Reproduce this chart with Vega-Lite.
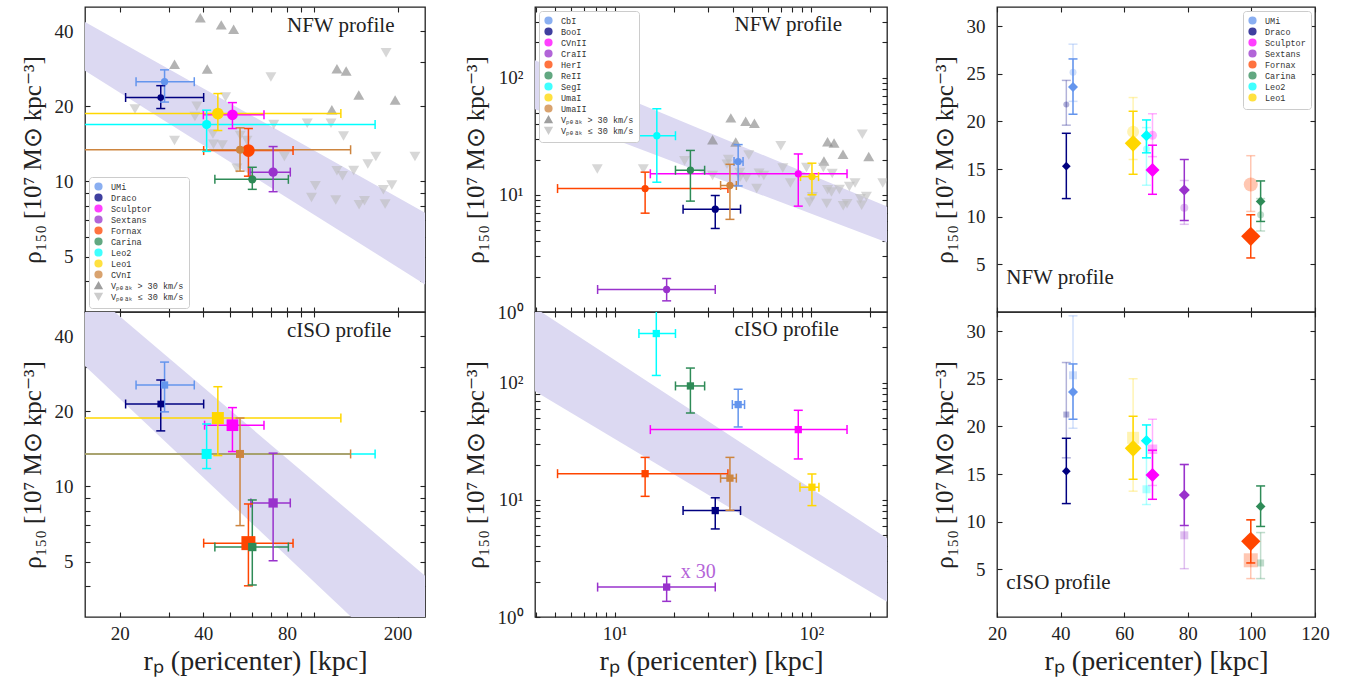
{
"$schema": "https://vega.github.io/schema/vega-lite/v6.json",
"background": "white",
"padding": {"left": 19, "top": 5, "right": 5, "bottom": 5},
"columns": 3,
"spacing": {"row": 0, "column": 110},
"bounds": "flush",
"align": "each",
"datasets": {
"sub": [
{"x":39.0,"y":45.3,"name":"Vₚₑₐₖ > 30 km/s"},{"x":46.4,"y":42.4,"name":"Vₚₑₐₖ > 30 km/s"},{"x":51.4,"y":40.7,"name":"Vₚₑₐₖ > 30 km/s"},{"x":31.5,"y":29.5,"name":"Vₚₑₐₖ > 30 km/s"},{"x":41.3,"y":28.2,"name":"Vₚₑₐₖ > 30 km/s"},{"x":121,"y":28.3,"name":"Vₚₑₐₖ > 30 km/s"},{"x":130.6,"y":27.7,"name":"Vₚₑₐₖ > 30 km/s"},{"x":145,"y":22.2,"name":"Vₚₑₐₖ > 30 km/s"},{"x":116,"y":19.4,"name":"Vₚₑₐₖ > 30 km/s"},{"x":196,"y":21.2,"name":"Vₚₑₐₖ > 30 km/s"},
{"x":22.7,"y":19.5,"name":"Vₚₑₐₖ ≤ 30 km/s"},{"x":31.5,"y":14.6,"name":"Vₚₑₐₖ ≤ 30 km/s"},{"x":48.1,"y":21.8,"name":"Vₚₑₐₖ ≤ 30 km/s"},{"x":37.9,"y":20.0,"name":"Vₚₑₐₖ ≤ 30 km/s"},{"x":37.3,"y":18.2,"name":"Vₚₑₐₖ ≤ 30 km/s"},{"x":43.5,"y":14.1,"name":"Vₚₑₐₖ ≤ 30 km/s"},{"x":46.8,"y":14.0,"name":"Vₚₑₐₖ ≤ 30 km/s"},{"x":43.3,"y":15.5,"name":"Vₚₑₐₖ ≤ 30 km/s"},{"x":54.3,"y":15.3,"name":"Vₚₑₐₖ ≤ 30 km/s"},{"x":57.4,"y":14.6,"name":"Vₚₑₐₖ ≤ 30 km/s"},{"x":52.8,"y":11.3,"name":"Vₚₑₐₖ ≤ 30 km/s"},{"x":70.0,"y":26.2,"name":"Vₚₑₐₖ ≤ 30 km/s"},{"x":71.7,"y":16.9,"name":"Vₚₑₐₖ ≤ 30 km/s"},{"x":94.6,"y":17.1,"name":"Vₚₑₐₖ ≤ 30 km/s"},{"x":115.2,"y":17.1,"name":"Vₚₑₐₖ ≤ 30 km/s"},{"x":127.8,"y":15.2,"name":"Vₚₑₐₖ ≤ 30 km/s"},{"x":181.8,"y":32.8,"name":"Vₚₑₐₖ ≤ 30 km/s"},{"x":167,"y":12.6,"name":"Vₚₑₐₖ ≤ 30 km/s"},{"x":231,"y":12.6,"name":"Vₚₑₐₖ ≤ 30 km/s"},{"x":156.3,"y":11.75,"name":"Vₚₑₐₖ ≤ 30 km/s"},{"x":139,"y":11.07,"name":"Vₚₑₐₖ ≤ 30 km/s"},{"x":121,"y":11.04,"name":"Vₚₑₐₖ ≤ 30 km/s"},{"x":126.7,"y":10.55,"name":"Vₚₑₐₖ ≤ 30 km/s"},{"x":101.2,"y":9.62,"name":"Vₚₑₐₖ ≤ 30 km/s"},{"x":98,"y":8.63,"name":"Vₚₑₐₖ ≤ 30 km/s"},{"x":119.8,"y":8.43,"name":"Vₚₑₐₖ ≤ 30 km/s"},{"x":145.4,"y":8.07,"name":"Vₚₑₐₖ ≤ 30 km/s"},{"x":152,"y":8.38,"name":"Vₚₑₐₖ ≤ 30 km/s"},{"x":180.4,"y":8.13,"name":"Vₚₑₐₖ ≤ 30 km/s"},{"x":190.7,"y":9.68,"name":"Vₚₑₐₖ ≤ 30 km/s"},{"x":177.8,"y":9.27,"name":"Vₚₑₐₖ ≤ 30 km/s"},{"x":78.3,"y":12.6,"name":"Vₚₑₐₖ ≤ 30 km/s"},{"x":8.17,"y":16.6,"name":"Vₚₑₐₖ ≤ 30 km/s"},{"x":14.0,"y":16.6,"name":"Vₚₑₐₖ ≤ 30 km/s"}
],
"bandA1": [{"x":15,"lo":27.8,"hi":43.5},{"x":251,"lo":3.87,"hi":7.5}],
"bandA2": [{"x":15,"lo":30.4,"hi":63.1},{"x":251,"lo":1.58,"hi":4.39}],
"bandB1": [{"x":3.94,"lo":53.7,"hi":140.5},{"x":252,"lo":3.83,"hi":7.74}],
"bandB2": [{"x":3.94,"lo":84.5,"hi":434},{"x":252,"lo":1.30,"hi":4.51}],
"A1": [
{"name":"UMi","x":29.0,"xlo":22.9,"xhi":37.1,"y":25.1,"ylo":20.8,"yhi":28.0,"s":53},
{"name":"Draco","x":28.1,"xlo":21.0,"xhi":40.1,"y":21.7,"ylo":19.6,"yhi":24.2,"s":45},
{"name":"Sculptor","x":50.9,"xlo":40.0,"xhi":66.1,"y":18.5,"ylo":16.3,"yhi":20.7,"s":114},
{"name":"Sextans","x":71.3,"xlo":58.9,"xhi":82.2,"y":10.9,"ylo":9.1,"yhi":13.8,"s":86},
{"name":"Fornax","x":58.1,"xlo":40.1,"xhi":84.1,"y":13.3,"ylo":10.5,"yhi":16.3,"s":161},
{"name":"Carina","x":60.0,"xlo":44.0,"xhi":80.9,"y":10.2,"ylo":9.3,"yhi":11.4,"s":69},
{"name":"Leo2","x":41.1,"xlo":10,"xhi":166,"y":16.9,"ylo":13.2,"yhi":19.3,"s":86},
{"name":"Leo1","x":45.1,"xlo":10,"xhi":125,"y":18.7,"ylo":16.0,"yhi":22.5,"s":137},
{"name":"CVnI","x":54.2,"xlo":10,"xhi":135.5,"y":13.4,"ylo":11.0,"yhi":16.4,"s":64}
],
"A2": [
{"name":"UMi","x":29.0,"xlo":22.9,"xhi":37.1,"y":25.5,"ylo":19.9,"yhi":31.5,"s":53},
{"name":"Draco","x":28.1,"xlo":21.0,"xhi":40.1,"y":21.4,"ylo":16.7,"yhi":26.7,"s":45},
{"name":"Sculptor","x":50.9,"xlo":40.4,"xhi":66.1,"y":17.6,"ylo":13.8,"yhi":20.7,"s":137},
{"name":"Sextans","x":71.3,"xlo":59.3,"xhi":82.2,"y":8.59,"ylo":5.04,"yhi":13.6,"s":86},
{"name":"Fornax","x":58.1,"xlo":40.1,"xhi":84.1,"y":5.93,"ylo":4.0,"yhi":8.51,"s":196},
{"name":"Carina","x":60.0,"xlo":44.0,"xhi":80.9,"y":5.72,"ylo":4.03,"yhi":8.83,"s":69},
{"name":"Leo2","x":41.1,"xlo":10,"xhi":166,"y":13.5,"ylo":11.8,"yhi":17.8,"s":100},
{"name":"Leo1","x":45.1,"xlo":10,"xhi":125,"y":18.8,"ylo":13.3,"yhi":25.1,"s":144},
{"name":"CVnI","x":54.2,"xlo":10,"xhi":135.5,"y":13.5,"ylo":6.97,"yhi":18.8,"s":64}
],
"B1": [
{"name":"CbI","x":42.5,"xlo":40.5,"xhi":45.0,"y":19.2,"ylo":11.9,"yhi":26.8,"s":53},
{"name":"BooI","x":32.5,"xlo":22.3,"xhi":43.7,"y":7.54,"ylo":5.16,"yhi":9.86,"s":53},
{"name":"CVnII","x":85.9,"xlo":15.2,"xhi":152,"y":15.1,"ylo":8.0,"yhi":22.3,"s":53},
{"name":"CraII","x":18.4,"xlo":8.2,"xhi":32.5,"y":1.556,"ylo":1.245,"yhi":1.93,"s":53},
{"name":"HerI","x":14.3,"xlo":5.13,"xhi":37.7,"y":11.3,"ylo":6.97,"yhi":15.6,"s":53},
{"name":"ReII","x":24.3,"xlo":20.4,"xhi":28.7,"y":16.2,"ylo":8.83,"yhi":23.9,"s":53},
{"name":"SegI","x":16.4,"xlo":13.3,"xhi":20.4,"y":31.9,"ylo":12.8,"yhi":54.2,"s":53},
{"name":"UmaI","x":100.8,"xlo":88.2,"xhi":108.9,"y":14.3,"ylo":10.0,"yhi":18.6,"s":53},
{"name":"UmaII","x":38.6,"xlo":34.6,"xhi":41.6,"y":12.0,"ylo":6.17,"yhi":18.2,"s":53}
],
"B2": [
{"name":"CbI","x":42.5,"xlo":39.7,"xhi":45.8,"y":64.9,"ylo":41.8,"yhi":87.7,"s":53},
{"name":"BooI","x":32.5,"xlo":22.3,"xhi":43.7,"y":8.09,"ylo":5.64,"yhi":10.4,"s":53},
{"name":"CVnII","x":85.9,"xlo":15.2,"xhi":152,"y":39.7,"ylo":22.3,"yhi":58.0,"s":53},
{"name":"CraII","x":18.4,"xlo":8.2,"xhi":32.5,"y":1.80,"ylo":1.36,"yhi":2.22,"s":53},
{"name":"HerI","x":14.3,"xlo":5.13,"xhi":37.7,"y":16.7,"ylo":10.7,"yhi":23.0,"s":53},
{"name":"ReII","x":24.3,"xlo":20.4,"xhi":28.7,"y":93.6,"ylo":55.0,"yhi":133,"s":53},
{"name":"SegI","x":16.3,"xlo":13.3,"xhi":20.4,"y":262,"ylo":115,"yhi":700,"s":53},
{"name":"UmaI","x":100.8,"xlo":87.6,"xhi":109.4,"y":12.8,"ylo":8.92,"yhi":16.6,"s":53},
{"name":"UmaII","x":38.6,"xlo":34.6,"xhi":41.6,"y":15.3,"ylo":8.13,"yhi":23.0,"s":53}
],
"Cd": [
{"name":"UMi","x":43.9,"y":23.6,"ylo":20.75,"yhi":26.55,"s":100},
{"name":"Draco","x":41.8,"y":15.3,"ylo":11.9,"yhi":18.75,"s":76},
{"name":"Sculptor","x":68.9,"y":14.9,"ylo":12.35,"yhi":17.5,"s":196},
{"name":"Sextans","x":78.9,"y":12.8,"ylo":9.6,"yhi":16.0,"s":121},
{"name":"Fornax","x":99.8,"y":7.94,"ylo":5.67,"yhi":10.2,"s":372},
{"name":"Carina","x":102.9,"y":11.6,"ylo":9.5,"yhi":13.75,"s":94},
{"name":"Leo2","x":67.0,"y":18.5,"ylo":16.7,"yhi":20.15,"s":128},
{"name":"Leo1","x":62.8,"y":17.7,"ylo":14.45,"yhi":21.06,"s":279}
],
"Cn": [
{"name":"UMi","x":43.9,"y":25.15,"ylo":22.1,"yhi":28.1,"s":49},
{"name":"Draco","x":41.8,"y":21.76,"ylo":19.6,"yhi":24.3,"s":36},
{"name":"Sculptor","x":68.9,"y":18.55,"ylo":16.3,"yhi":20.8,"s":81},
{"name":"Sextans","x":78.9,"y":10.95,"ylo":9.2,"yhi":13.8,"s":64},
{"name":"Fornax","x":99.8,"y":13.37,"ylo":10.55,"yhi":16.4,"s":196},
{"name":"Carina","x":102.9,"y":10.2,"ylo":8.5,"yhi":11.9,"s":49},
{"name":"Leo2","x":67.0,"y":17.1,"ylo":13.3,"yhi":19.35,"s":49},
{"name":"Leo1","x":62.8,"y":18.9,"ylo":16.0,"yhi":22.5,"s":144}
],
"Ci": [
{"name":"UMi","x":43.9,"y":25.36,"ylo":19.8,"yhi":31.6,"s":64},
{"name":"Draco","x":41.8,"y":21.24,"ylo":16.7,"yhi":26.7,"s":36},
{"name":"Sculptor","x":68.9,"y":17.6,"ylo":13.8,"yhi":20.75,"s":90},
{"name":"Sextans","x":78.9,"y":8.57,"ylo":5.07,"yhi":16.0,"s":64},
{"name":"Fornax","x":99.8,"y":5.95,"ylo":4.03,"yhi":10.15,"s":196},
{"name":"Carina","x":102.9,"y":5.67,"ylo":4.03,"yhi":8.86,"s":49},
{"name":"Leo2","x":67.0,"y":13.4,"ylo":11.8,"yhi":16.7,"s":64},
{"name":"Leo1","x":62.8,"y":18.8,"ylo":13.2,"yhi":25.0,"s":144}
],
"tA1": [{"x":80,"y":42,"t":"NFW profile"}],
"tA2": [{"x":80,"y":42,"t":"cISO profile"}],
"tB1": [{"x":40.7,"y":283,"t":"NFW profile"}],
"tB2": [{"x":40.7,"y":283,"t":"cISO profile"}],
"tB2b": [{"x":26.6,"y":2.42,"t":"x 30"}],
"tC1": [{"x":22.9,"y":3.6,"t":"NFW profile"}],
"tC2": [{"x":22.9,"y":3.6,"t":"cISO profile"}]
},
"concat": [
{
"width": 340, "height": 305,
"resolve": {"axis": {"x": "independent", "y": "independent"}},
"encoding": {"color": {"field": "name", "type": "nominal", "legend": null, "scale": {"domain": ["UMi","Draco","Sculptor","Sextans","Fornax","Carina","Leo2","Leo1","CVnI","Vₚₑₐₖ > 30 km/s","Vₚₑₐₖ ≤ 30 km/s"], "range": ["#6495ED","#000080","#FF00FF","#9932CC","#FF4500","#2E8B57","#00FFFF","#FFD700","#CD853F","#808080","#bcbcbc"]}}},
"layer": [
{"data": {"name": "bandA1"}, "mark": {"type": "area", "clip": true},
 "encoding": {
 "x": {"field": "x", "type": "quantitative", "scale": {"type": "log", "domain": [15,251], "nice": false}, "axis": {"orient": "bottom", "values": [20,30,40,50,60,70,80,90,100,200], "labels": false, "title": null}},
 "y": {"field": "lo", "type": "quantitative", "scale": {"type": "log", "domain": [3,50], "nice": false}, "axis": {"orient": "left", "values": [4,5,6,7,8,9,10,20,30,40], "labelExpr": "indexof([5,10,20,40], datum.value) >= 0 ? format(datum.value, 'd') : ''", "title": "ρ₁₅₀ [10⁷ M⊙ kpc⁻³]", "labelFont": "Liberation Serif", "titleFont": "Liberation Serif"}},
 "y2": {"field": "hi"},
 "color": {"value": "#dcd9f2"}}},
{"data": {"name": "sub"}, "mark": {"type": "point", "filled": true, "opacity": 0, "size": 40, "clip": true},
 "encoding": {
 "x": {"field": "x", "type": "quantitative", "scale": {"type": "log", "domain": [15,251], "nice": false}, "axis": null},
 "y": {"field": "y", "type": "quantitative", "scale": {"type": "log", "domain": [3,50], "nice": false}, "axis": null},
 "color": {"field": "name", "type": "nominal", "scale": {"domain": ["UMi","Draco","Sculptor","Sextans","Fornax","Carina","Leo2","Leo1","CVnI","Vₚₑₐₖ > 30 km/s","Vₚₑₐₖ ≤ 30 km/s"], "range": ["#6495ED","#000080","#FF00FF","#9932CC","#FF4500","#2E8B57","#00FFFF","#FFD700","#CD853F","#808080","#bcbcbc"]}, "legend": {"title": null, "orient": "bottom-left", "offset": 4, "symbolOpacity": 0.75, "symbolSize": 45}},
 "shape": {"field": "name", "type": "nominal", "scale": {"domain": ["UMi","Draco","Sculptor","Sextans","Fornax","Carina","Leo2","Leo1","CVnI","Vₚₑₐₖ > 30 km/s","Vₚₑₐₖ ≤ 30 km/s"], "range": ["circle","circle","circle","circle","circle","circle","circle","circle","circle","triangle-up","triangle-down"]}, "legend": {"title": null, "orient": "bottom-left", "offset": 4, "symbolOpacity": 0.75, "symbolSize": 45}}}},
{"data": {"name": "sub"}, "mark": {"type": "point", "filled": true, "opacity": 0.6, "size": 120, "clip": true},
 "encoding": {
 "x": {"field": "x", "type": "quantitative", "scale": {"type": "log", "domain": [15,251], "nice": false}, "axis": null},
 "y": {"field": "y", "type": "quantitative", "scale": {"type": "log", "domain": [3,50], "nice": false}, "axis": null},
 "shape": {"field": "name", "type": "nominal", "scale": {"domain": ["UMi","Draco","Sculptor","Sextans","Fornax","Carina","Leo2","Leo1","CVnI","Vₚₑₐₖ > 30 km/s","Vₚₑₐₖ ≤ 30 km/s"], "range": ["circle","circle","circle","circle","circle","circle","circle","circle","circle","triangle-up","triangle-down"]}, "legend": null}}},
{"data": {"name": "A1"}, "mark": {"type": "rule", "strokeWidth": 1.5, "clip": true},
 "encoding": {"x": {"field": "xlo", "type": "quantitative", "scale": {"type": "log", "domain": [15,251], "nice": false}, "axis": null}, "x2": {"field": "xhi"}, "y": {"field": "y", "type": "quantitative", "scale": {"type": "log", "domain": [3,50], "nice": false}, "axis": null}}},
{"data": {"name": "A1"}, "mark": {"type": "rule", "strokeWidth": 1.5, "clip": true},
 "encoding": {"x": {"field": "x", "type": "quantitative", "scale": {"type": "log", "domain": [15,251], "nice": false}, "axis": null}, "y": {"field": "ylo", "type": "quantitative", "scale": {"type": "log", "domain": [3,50], "nice": false}, "axis": null}, "y2": {"field": "yhi"}}},
{"data": {"name": "A1"}, "mark": {"type": "tick", "orient": "vertical", "size": 9, "thickness": 1.5, "opacity": 1, "clip": true},
 "encoding": {"x": {"field": "xlo", "type": "quantitative", "scale": {"type": "log", "domain": [15,251], "nice": false}, "axis": null}, "y": {"field": "y", "type": "quantitative", "scale": {"type": "log", "domain": [3,50], "nice": false}, "axis": null}}},
{"data": {"name": "A1"}, "mark": {"type": "tick", "orient": "vertical", "size": 9, "thickness": 1.5, "opacity": 1, "clip": true},
 "encoding": {"x": {"field": "xhi", "type": "quantitative", "scale": {"type": "log", "domain": [15,251], "nice": false}, "axis": null}, "y": {"field": "y", "type": "quantitative", "scale": {"type": "log", "domain": [3,50], "nice": false}, "axis": null}}},
{"data": {"name": "A1"}, "mark": {"type": "tick", "orient": "horizontal", "size": 9, "thickness": 1.5, "opacity": 1, "clip": true},
 "encoding": {"x": {"field": "x", "type": "quantitative", "scale": {"type": "log", "domain": [15,251], "nice": false}, "axis": null}, "y": {"field": "ylo", "type": "quantitative", "scale": {"type": "log", "domain": [3,50], "nice": false}, "axis": null}}},
{"data": {"name": "A1"}, "mark": {"type": "tick", "orient": "horizontal", "size": 9, "thickness": 1.5, "opacity": 1, "clip": true},
 "encoding": {"x": {"field": "x", "type": "quantitative", "scale": {"type": "log", "domain": [15,251], "nice": false}, "axis": null}, "y": {"field": "yhi", "type": "quantitative", "scale": {"type": "log", "domain": [3,50], "nice": false}, "axis": null}}},
{"data": {"name": "A1"}, "mark": {"type": "point", "shape": "circle", "filled": true, "opacity": 1, "clip": true},
 "encoding": {"x": {"field": "x", "type": "quantitative", "scale": {"type": "log", "domain": [15,251], "nice": false}, "axis": null}, "y": {"field": "y", "type": "quantitative", "scale": {"type": "log", "domain": [3,50], "nice": false}, "axis": null}, "size": {"field": "s", "type": "quantitative", "scale": null}}},
{"data": {"name": "tA1"}, "mark": {"type": "text", "align": "left", "baseline": "middle", "fontSize": 21, "font": "Liberation Serif"},
 "encoding": {"x": {"field": "x", "type": "quantitative", "scale": {"type": "log", "domain": [15,251], "nice": false}, "axis": {"orient": "top", "values": [20,30,40,50,60,70,80,90,100,200], "labels": false, "title": null}}, "y": {"field": "y", "type": "quantitative", "scale": {"type": "log", "domain": [3,50], "nice": false}, "axis": {"orient": "right", "values": [4,5,6,7,8,9,10,20,30,40], "labels": false, "title": null}}, "text": {"field": "t"}, "color": {"value": "#222222"}}}
]
},
{
"width": 352, "height": 305,
"resolve": {"axis": {"x": "independent", "y": "independent"}},
"encoding": {"color": {"field": "name", "type": "nominal", "legend": null, "scale": {"domain": ["CbI","BooI","CVnII","CraII","HerI","ReII","SegI","UmaI","UmaII","Vₚₑₐₖ > 30 km/s","Vₚₑₐₖ ≤ 30 km/s"], "range": ["#6495ED","#000080","#FF00FF","#9932CC","#FF4500","#2E8B57","#00FFFF","#FFD700","#CD853F","#808080","#bcbcbc"]}}},
"layer": [
{"data": {"name": "bandB1"}, "mark": {"type": "area", "clip": true},
 "encoding": {
 "x": {"field": "x", "type": "quantitative", "scale": {"type": "log", "domain": [3.94,242.7], "nice": false}, "axis": {"orient": "bottom", "values": [4,5,6,7,8,9,10,20,30,40,50,60,70,80,90,100,200], "labels": false, "title": null}},
 "y": {"field": "lo", "type": "quantitative", "scale": {"type": "log", "domain": [1,400], "nice": false}, "axis": {"orient": "left", "values": [1,2,3,4,5,6,7,8,9,10,20,30,40,50,60,70,80,90,100,200,300], "labelExpr": "datum.value == 1 ? '10⁰' : datum.value == 10 ? '10¹' : datum.value == 100 ? '10²' : ''", "title": "ρ₁₅₀ [10⁷ M⊙ kpc⁻³]", "labelFont": "Liberation Serif", "titleFont": "Liberation Serif"}},
 "y2": {"field": "hi"},
 "color": {"value": "#dcd9f2"}}},
{"data": {"name": "sub"}, "mark": {"type": "point", "filled": true, "opacity": 0, "size": 40, "clip": true},
 "encoding": {
 "x": {"field": "x", "type": "quantitative", "scale": {"type": "log", "domain": [3.94,242.7], "nice": false}, "axis": null},
 "y": {"field": "y", "type": "quantitative", "scale": {"type": "log", "domain": [1,400], "nice": false}, "axis": null},
 "color": {"field": "name", "type": "nominal", "scale": {"domain": ["CbI","BooI","CVnII","CraII","HerI","ReII","SegI","UmaI","UmaII","Vₚₑₐₖ > 30 km/s","Vₚₑₐₖ ≤ 30 km/s"], "range": ["#6495ED","#000080","#FF00FF","#9932CC","#FF4500","#2E8B57","#00FFFF","#FFD700","#CD853F","#808080","#bcbcbc"]}, "legend": {"title": null, "orient": "top-left", "offset": 4, "symbolOpacity": 0.75, "symbolSize": 45}},
 "shape": {"field": "name", "type": "nominal", "scale": {"domain": ["CbI","BooI","CVnII","CraII","HerI","ReII","SegI","UmaI","UmaII","Vₚₑₐₖ > 30 km/s","Vₚₑₐₖ ≤ 30 km/s"], "range": ["circle","circle","circle","circle","circle","circle","circle","circle","circle","triangle-up","triangle-down"]}, "legend": {"title": null, "orient": "top-left", "offset": 4, "symbolOpacity": 0.75, "symbolSize": 45}}}},
{"data": {"name": "sub"}, "mark": {"type": "point", "filled": true, "opacity": 0.6, "size": 120, "clip": true},
 "encoding": {
 "x": {"field": "x", "type": "quantitative", "scale": {"type": "log", "domain": [3.94,242.7], "nice": false}, "axis": null},
 "y": {"field": "y", "type": "quantitative", "scale": {"type": "log", "domain": [1,400], "nice": false}, "axis": null},
 "shape": {"field": "name", "type": "nominal", "scale": {"domain": ["CbI","BooI","CVnII","CraII","HerI","ReII","SegI","UmaI","UmaII","Vₚₑₐₖ > 30 km/s","Vₚₑₐₖ ≤ 30 km/s"], "range": ["circle","circle","circle","circle","circle","circle","circle","circle","circle","triangle-up","triangle-down"]}, "legend": null}}},
{"data": {"name": "B1"}, "mark": {"type": "rule", "strokeWidth": 1.5, "clip": true},
 "encoding": {"x": {"field": "xlo", "type": "quantitative", "scale": {"type": "log", "domain": [3.94,242.7], "nice": false}, "axis": null}, "x2": {"field": "xhi"}, "y": {"field": "y", "type": "quantitative", "scale": {"type": "log", "domain": [1,400], "nice": false}, "axis": null}}},
{"data": {"name": "B1"}, "mark": {"type": "rule", "strokeWidth": 1.5, "clip": true},
 "encoding": {"x": {"field": "x", "type": "quantitative", "scale": {"type": "log", "domain": [3.94,242.7], "nice": false}, "axis": null}, "y": {"field": "ylo", "type": "quantitative", "scale": {"type": "log", "domain": [1,400], "nice": false}, "axis": null}, "y2": {"field": "yhi"}}},
{"data": {"name": "B1"}, "mark": {"type": "tick", "orient": "vertical", "size": 9, "thickness": 1.5, "opacity": 1, "clip": true},
 "encoding": {"x": {"field": "xlo", "type": "quantitative", "scale": {"type": "log", "domain": [3.94,242.7], "nice": false}, "axis": null}, "y": {"field": "y", "type": "quantitative", "scale": {"type": "log", "domain": [1,400], "nice": false}, "axis": null}}},
{"data": {"name": "B1"}, "mark": {"type": "tick", "orient": "vertical", "size": 9, "thickness": 1.5, "opacity": 1, "clip": true},
 "encoding": {"x": {"field": "xhi", "type": "quantitative", "scale": {"type": "log", "domain": [3.94,242.7], "nice": false}, "axis": null}, "y": {"field": "y", "type": "quantitative", "scale": {"type": "log", "domain": [1,400], "nice": false}, "axis": null}}},
{"data": {"name": "B1"}, "mark": {"type": "tick", "orient": "horizontal", "size": 9, "thickness": 1.5, "opacity": 1, "clip": true},
 "encoding": {"x": {"field": "x", "type": "quantitative", "scale": {"type": "log", "domain": [3.94,242.7], "nice": false}, "axis": null}, "y": {"field": "ylo", "type": "quantitative", "scale": {"type": "log", "domain": [1,400], "nice": false}, "axis": null}}},
{"data": {"name": "B1"}, "mark": {"type": "tick", "orient": "horizontal", "size": 9, "thickness": 1.5, "opacity": 1, "clip": true},
 "encoding": {"x": {"field": "x", "type": "quantitative", "scale": {"type": "log", "domain": [3.94,242.7], "nice": false}, "axis": null}, "y": {"field": "yhi", "type": "quantitative", "scale": {"type": "log", "domain": [1,400], "nice": false}, "axis": null}}},
{"data": {"name": "B1"}, "mark": {"type": "point", "shape": "circle", "filled": true, "opacity": 1, "clip": true},
 "encoding": {"x": {"field": "x", "type": "quantitative", "scale": {"type": "log", "domain": [3.94,242.7], "nice": false}, "axis": null}, "y": {"field": "y", "type": "quantitative", "scale": {"type": "log", "domain": [1,400], "nice": false}, "axis": null}, "size": {"field": "s", "type": "quantitative", "scale": null}}},
{"data": {"name": "tB1"}, "mark": {"type": "text", "align": "left", "baseline": "middle", "fontSize": 21, "font": "Liberation Serif"},
 "encoding": {"x": {"field": "x", "type": "quantitative", "scale": {"type": "log", "domain": [3.94,242.7], "nice": false}, "axis": {"orient": "top", "values": [4,5,6,7,8,9,10,20,30,40,50,60,70,80,90,100,200], "labels": false, "title": null}}, "y": {"field": "y", "type": "quantitative", "scale": {"type": "log", "domain": [1,400], "nice": false}, "axis": {"orient": "right", "values": [2,3,4,5,6,7,8,9,10,20,30,40,50,60,70,80,90,100,200,300], "labels": false, "title": null}}, "text": {"field": "t"}, "color": {"value": "#222222"}}}
]
},
{
"width": 318, "height": 305,
"resolve": {"axis": {"x": "independent", "y": "independent"}},
"encoding": {"color": {"field": "name", "type": "nominal", "legend": null, "scale": {"domain": ["UMi","Draco","Sculptor","Sextans","Fornax","Carina","Leo2","Leo1"], "range": ["#6495ED","#000080","#FF00FF","#9932CC","#FF4500","#2E8B57","#00FFFF","#FFD700"]}}},
"layer": [
{"data": {"name": "Cd"}, "mark": {"type": "point", "filled": true, "opacity": 0, "size": 45, "clip": true},
 "encoding": {
 "x": {"field": "x", "type": "quantitative", "scale": {"type": "linear", "domain": [20,120], "nice": false, "zero": false}, "axis": {"orient": "bottom", "values": [20,40,60,80,100,120], "labels": false, "title": null}},
 "y": {"field": "y", "type": "quantitative", "scale": {"type": "linear", "domain": [0,32], "nice": false, "zero": false}, "axis": {"orient": "left", "values": [5,10,15,20,25,30], "title": "ρ₁₅₀ [10⁷ M⊙ kpc⁻³]", "labelFont": "Liberation Serif", "titleFont": "Liberation Serif"}},
 "color": {"field": "name", "type": "nominal", "scale": {"domain": ["UMi","Draco","Sculptor","Sextans","Fornax","Carina","Leo2","Leo1"], "range": ["#6495ED","#000080","#FF00FF","#9932CC","#FF4500","#2E8B57","#00FFFF","#FFD700"]}, "legend": {"title": null, "orient": "top-right", "offset": 4, "symbolOpacity": 0.75, "symbolType": "circle", "symbolSize": 45}}}},
{"data": {"name": "Cn"}, "mark": {"type": "rule", "strokeWidth": 1.5, "opacity": 0.3, "clip": true},
 "encoding": {"x": {"field": "x", "type": "quantitative", "scale": {"type": "linear", "domain": [20,120], "nice": false, "zero": false}, "axis": null}, "y": {"field": "ylo", "type": "quantitative", "scale": {"type": "linear", "domain": [0,32], "nice": false, "zero": false}, "axis": null}, "y2": {"field": "yhi"}}},
{"data": {"name": "Cn"}, "mark": {"type": "tick", "orient": "horizontal", "size": 9, "thickness": 1.5, "opacity": 0.3, "clip": true},
 "encoding": {"x": {"field": "x", "type": "quantitative", "scale": {"type": "linear", "domain": [20,120], "nice": false, "zero": false}, "axis": null}, "y": {"field": "ylo", "type": "quantitative", "scale": {"type": "linear", "domain": [0,32], "nice": false, "zero": false}, "axis": null}}},
{"data": {"name": "Cn"}, "mark": {"type": "tick", "orient": "horizontal", "size": 9, "thickness": 1.5, "opacity": 0.3, "clip": true},
 "encoding": {"x": {"field": "x", "type": "quantitative", "scale": {"type": "linear", "domain": [20,120], "nice": false, "zero": false}, "axis": null}, "y": {"field": "yhi", "type": "quantitative", "scale": {"type": "linear", "domain": [0,32], "nice": false, "zero": false}, "axis": null}}},
{"data": {"name": "Cn"}, "mark": {"type": "point", "shape": "circle", "filled": true, "opacity": 0.3, "clip": true},
 "encoding": {"x": {"field": "x", "type": "quantitative", "scale": {"type": "linear", "domain": [20,120], "nice": false, "zero": false}, "axis": null}, "y": {"field": "y", "type": "quantitative", "scale": {"type": "linear", "domain": [0,32], "nice": false, "zero": false}, "axis": null}, "size": {"field": "s", "type": "quantitative", "scale": null}}},
{"data": {"name": "Cd"}, "mark": {"type": "rule", "strokeWidth": 1.5, "clip": true},
 "encoding": {"x": {"field": "x", "type": "quantitative", "scale": {"type": "linear", "domain": [20,120], "nice": false, "zero": false}, "axis": null}, "y": {"field": "ylo", "type": "quantitative", "scale": {"type": "linear", "domain": [0,32], "nice": false, "zero": false}, "axis": null}, "y2": {"field": "yhi"}}},
{"data": {"name": "Cd"}, "mark": {"type": "tick", "orient": "horizontal", "size": 9, "thickness": 1.5, "opacity": 1, "clip": true},
 "encoding": {"x": {"field": "x", "type": "quantitative", "scale": {"type": "linear", "domain": [20,120], "nice": false, "zero": false}, "axis": null}, "y": {"field": "ylo", "type": "quantitative", "scale": {"type": "linear", "domain": [0,32], "nice": false, "zero": false}, "axis": null}}},
{"data": {"name": "Cd"}, "mark": {"type": "tick", "orient": "horizontal", "size": 9, "thickness": 1.5, "opacity": 1, "clip": true},
 "encoding": {"x": {"field": "x", "type": "quantitative", "scale": {"type": "linear", "domain": [20,120], "nice": false, "zero": false}, "axis": null}, "y": {"field": "yhi", "type": "quantitative", "scale": {"type": "linear", "domain": [0,32], "nice": false, "zero": false}, "axis": null}}},
{"data": {"name": "Cd"}, "mark": {"type": "point", "shape": "diamond", "filled": true, "opacity": 1, "clip": true},
 "encoding": {"x": {"field": "x", "type": "quantitative", "scale": {"type": "linear", "domain": [20,120], "nice": false, "zero": false}, "axis": null}, "y": {"field": "y", "type": "quantitative", "scale": {"type": "linear", "domain": [0,32], "nice": false, "zero": false}, "axis": null}, "size": {"field": "s", "type": "quantitative", "scale": null}}},
{"data": {"name": "tC1"}, "mark": {"type": "text", "align": "left", "baseline": "middle", "fontSize": 21, "font": "Liberation Serif"},
 "encoding": {"x": {"field": "x", "type": "quantitative", "scale": {"type": "linear", "domain": [20,120], "nice": false, "zero": false}, "axis": {"orient": "top", "values": [20,40,60,80,100,120], "labels": false, "title": null}}, "y": {"field": "y", "type": "quantitative", "scale": {"type": "linear", "domain": [0,32], "nice": false, "zero": false}, "axis": {"orient": "right", "values": [5,10,15,20,25,30], "labels": false, "title": null}}, "text": {"field": "t"}, "color": {"value": "#222222"}}}
]
},
{
"width": 340, "height": 305,
"resolve": {"axis": {"x": "independent", "y": "independent"}},
"encoding": {"color": {"field": "name", "type": "nominal", "legend": null, "scale": {"domain": ["UMi","Draco","Sculptor","Sextans","Fornax","Carina","Leo2","Leo1","CVnI"], "range": ["#6495ED","#000080","#FF00FF","#9932CC","#FF4500","#2E8B57","#00FFFF","#FFD700","#CD853F"]}}},
"layer": [
{"data": {"name": "bandA2"}, "mark": {"type": "area", "clip": true},
 "encoding": {
 "x": {"field": "x", "type": "quantitative", "scale": {"type": "log", "domain": [15,251], "nice": false}, "axis": {"orient": "bottom", "values": [20,30,40,50,60,70,80,90,100,200], "labelExpr": "indexof([20,40,80,200], datum.value) >= 0 ? format(datum.value, 'd') : ''", "title": "rₚ (pericenter) [kpc]", "labelFont": "Liberation Serif", "titleFont": "Liberation Serif"}},
 "y": {"field": "lo", "type": "quantitative", "scale": {"type": "log", "domain": [3,50], "nice": false}, "axis": {"orient": "left", "values": [4,5,6,7,8,9,10,20,30,40], "labelExpr": "indexof([5,10,20,40], datum.value) >= 0 ? format(datum.value, 'd') : ''", "title": "ρ₁₅₀ [10⁷ M⊙ kpc⁻³]", "labelFont": "Liberation Serif", "titleFont": "Liberation Serif"}},
 "y2": {"field": "hi"},
 "color": {"value": "#dcd9f2"}}},
{"data": {"name": "A2"}, "mark": {"type": "rule", "strokeWidth": 1.5, "clip": true},
 "encoding": {"x": {"field": "xlo", "type": "quantitative", "scale": {"type": "log", "domain": [15,251], "nice": false}, "axis": null}, "x2": {"field": "xhi"}, "y": {"field": "y", "type": "quantitative", "scale": {"type": "log", "domain": [3,50], "nice": false}, "axis": null}}},
{"data": {"name": "A2"}, "mark": {"type": "rule", "strokeWidth": 1.5, "clip": true},
 "encoding": {"x": {"field": "x", "type": "quantitative", "scale": {"type": "log", "domain": [15,251], "nice": false}, "axis": null}, "y": {"field": "ylo", "type": "quantitative", "scale": {"type": "log", "domain": [3,50], "nice": false}, "axis": null}, "y2": {"field": "yhi"}}},
{"data": {"name": "A2"}, "mark": {"type": "tick", "orient": "vertical", "size": 9, "thickness": 1.5, "opacity": 1, "clip": true},
 "encoding": {"x": {"field": "xlo", "type": "quantitative", "scale": {"type": "log", "domain": [15,251], "nice": false}, "axis": null}, "y": {"field": "y", "type": "quantitative", "scale": {"type": "log", "domain": [3,50], "nice": false}, "axis": null}}},
{"data": {"name": "A2"}, "mark": {"type": "tick", "orient": "vertical", "size": 9, "thickness": 1.5, "opacity": 1, "clip": true},
 "encoding": {"x": {"field": "xhi", "type": "quantitative", "scale": {"type": "log", "domain": [15,251], "nice": false}, "axis": null}, "y": {"field": "y", "type": "quantitative", "scale": {"type": "log", "domain": [3,50], "nice": false}, "axis": null}}},
{"data": {"name": "A2"}, "mark": {"type": "tick", "orient": "horizontal", "size": 9, "thickness": 1.5, "opacity": 1, "clip": true},
 "encoding": {"x": {"field": "x", "type": "quantitative", "scale": {"type": "log", "domain": [15,251], "nice": false}, "axis": null}, "y": {"field": "ylo", "type": "quantitative", "scale": {"type": "log", "domain": [3,50], "nice": false}, "axis": null}}},
{"data": {"name": "A2"}, "mark": {"type": "tick", "orient": "horizontal", "size": 9, "thickness": 1.5, "opacity": 1, "clip": true},
 "encoding": {"x": {"field": "x", "type": "quantitative", "scale": {"type": "log", "domain": [15,251], "nice": false}, "axis": null}, "y": {"field": "yhi", "type": "quantitative", "scale": {"type": "log", "domain": [3,50], "nice": false}, "axis": null}}},
{"data": {"name": "A2"}, "mark": {"type": "point", "shape": "square", "filled": true, "opacity": 1, "clip": true},
 "encoding": {"x": {"field": "x", "type": "quantitative", "scale": {"type": "log", "domain": [15,251], "nice": false}, "axis": null}, "y": {"field": "y", "type": "quantitative", "scale": {"type": "log", "domain": [3,50], "nice": false}, "axis": null}, "size": {"field": "s", "type": "quantitative", "scale": null}}},
{"data": {"name": "tA2"}, "mark": {"type": "text", "align": "left", "baseline": "middle", "fontSize": 21, "font": "Liberation Serif"},
 "encoding": {"x": {"field": "x", "type": "quantitative", "scale": {"type": "log", "domain": [15,251], "nice": false}, "axis": {"orient": "top", "values": [20,30,40,50,60,70,80,90,100,200], "labels": false, "title": null}}, "y": {"field": "y", "type": "quantitative", "scale": {"type": "log", "domain": [3,50], "nice": false}, "axis": {"orient": "right", "values": [4,5,6,7,8,9,10,20,30,40], "labels": false, "title": null}}, "text": {"field": "t"}, "color": {"value": "#222222"}}}
]
},
{
"width": 352, "height": 305,
"resolve": {"axis": {"x": "independent", "y": "independent"}},
"encoding": {"color": {"field": "name", "type": "nominal", "legend": null, "scale": {"domain": ["CbI","BooI","CVnII","CraII","HerI","ReII","SegI","UmaI","UmaII"], "range": ["#6495ED","#000080","#FF00FF","#9932CC","#FF4500","#2E8B57","#00FFFF","#FFD700","#CD853F"]}}},
"layer": [
{"data": {"name": "bandB2"}, "mark": {"type": "area", "clip": true},
 "encoding": {
 "x": {"field": "x", "type": "quantitative", "scale": {"type": "log", "domain": [3.94,242.7], "nice": false}, "axis": {"orient": "bottom", "values": [4,5,6,7,8,9,10,20,30,40,50,60,70,80,90,100,200], "labelExpr": "datum.value == 10 ? '10¹' : datum.value == 100 ? '10²' : ''", "title": "rₚ (pericenter) [kpc]", "labelFont": "Liberation Serif", "titleFont": "Liberation Serif"}},
 "y": {"field": "lo", "type": "quantitative", "scale": {"type": "log", "domain": [1,400], "nice": false}, "axis": {"orient": "left", "values": [1,2,3,4,5,6,7,8,9,10,20,30,40,50,60,70,80,90,100,200,300], "labelExpr": "datum.value == 1 ? '10⁰' : datum.value == 10 ? '10¹' : datum.value == 100 ? '10²' : ''", "title": "ρ₁₅₀ [10⁷ M⊙ kpc⁻³]", "labelFont": "Liberation Serif", "titleFont": "Liberation Serif"}},
 "y2": {"field": "hi"},
 "color": {"value": "#dcd9f2"}}},
{"data": {"name": "B2"}, "mark": {"type": "rule", "strokeWidth": 1.5, "clip": true},
 "encoding": {"x": {"field": "xlo", "type": "quantitative", "scale": {"type": "log", "domain": [3.94,242.7], "nice": false}, "axis": null}, "x2": {"field": "xhi"}, "y": {"field": "y", "type": "quantitative", "scale": {"type": "log", "domain": [1,400], "nice": false}, "axis": null}}},
{"data": {"name": "B2"}, "mark": {"type": "rule", "strokeWidth": 1.5, "clip": true},
 "encoding": {"x": {"field": "x", "type": "quantitative", "scale": {"type": "log", "domain": [3.94,242.7], "nice": false}, "axis": null}, "y": {"field": "ylo", "type": "quantitative", "scale": {"type": "log", "domain": [1,400], "nice": false}, "axis": null}, "y2": {"field": "yhi"}}},
{"data": {"name": "B2"}, "mark": {"type": "tick", "orient": "vertical", "size": 9, "thickness": 1.5, "opacity": 1, "clip": true},
 "encoding": {"x": {"field": "xlo", "type": "quantitative", "scale": {"type": "log", "domain": [3.94,242.7], "nice": false}, "axis": null}, "y": {"field": "y", "type": "quantitative", "scale": {"type": "log", "domain": [1,400], "nice": false}, "axis": null}}},
{"data": {"name": "B2"}, "mark": {"type": "tick", "orient": "vertical", "size": 9, "thickness": 1.5, "opacity": 1, "clip": true},
 "encoding": {"x": {"field": "xhi", "type": "quantitative", "scale": {"type": "log", "domain": [3.94,242.7], "nice": false}, "axis": null}, "y": {"field": "y", "type": "quantitative", "scale": {"type": "log", "domain": [1,400], "nice": false}, "axis": null}}},
{"data": {"name": "B2"}, "mark": {"type": "tick", "orient": "horizontal", "size": 9, "thickness": 1.5, "opacity": 1, "clip": true},
 "encoding": {"x": {"field": "x", "type": "quantitative", "scale": {"type": "log", "domain": [3.94,242.7], "nice": false}, "axis": null}, "y": {"field": "ylo", "type": "quantitative", "scale": {"type": "log", "domain": [1,400], "nice": false}, "axis": null}}},
{"data": {"name": "B2"}, "mark": {"type": "tick", "orient": "horizontal", "size": 9, "thickness": 1.5, "opacity": 1, "clip": true},
 "encoding": {"x": {"field": "x", "type": "quantitative", "scale": {"type": "log", "domain": [3.94,242.7], "nice": false}, "axis": null}, "y": {"field": "yhi", "type": "quantitative", "scale": {"type": "log", "domain": [1,400], "nice": false}, "axis": null}}},
{"data": {"name": "B2"}, "mark": {"type": "point", "shape": "square", "filled": true, "opacity": 1, "clip": true},
 "encoding": {"x": {"field": "x", "type": "quantitative", "scale": {"type": "log", "domain": [3.94,242.7], "nice": false}, "axis": null}, "y": {"field": "y", "type": "quantitative", "scale": {"type": "log", "domain": [1,400], "nice": false}, "axis": null}, "size": {"field": "s", "type": "quantitative", "scale": null}}},
{"data": {"name": "tB2b"}, "mark": {"type": "text", "align": "center", "baseline": "middle", "fontSize": 20, "font": "Liberation Serif"},
 "encoding": {"x": {"field": "x", "type": "quantitative", "scale": {"type": "log", "domain": [3.94,242.7], "nice": false}, "axis": null}, "y": {"field": "y", "type": "quantitative", "scale": {"type": "log", "domain": [1,400], "nice": false}, "axis": null}, "text": {"field": "t"}, "color": {"value": "#b464d8"}}},
{"data": {"name": "tB2"}, "mark": {"type": "text", "align": "left", "baseline": "middle", "fontSize": 21, "font": "Liberation Serif"},
 "encoding": {"x": {"field": "x", "type": "quantitative", "scale": {"type": "log", "domain": [3.94,242.7], "nice": false}, "axis": {"orient": "top", "values": [4,5,6,7,8,9,10,20,30,40,50,60,70,80,90,100,200], "labels": false, "title": null}}, "y": {"field": "y", "type": "quantitative", "scale": {"type": "log", "domain": [1,400], "nice": false}, "axis": {"orient": "right", "values": [2,3,4,5,6,7,8,9,10,20,30,40,50,60,70,80,90,100,200,300], "labels": false, "title": null}}, "text": {"field": "t"}, "color": {"value": "#222222"}}}
]
},
{
"width": 318, "height": 305,
"resolve": {"axis": {"x": "independent", "y": "independent"}},
"encoding": {"color": {"field": "name", "type": "nominal", "legend": null, "scale": {"domain": ["UMi","Draco","Sculptor","Sextans","Fornax","Carina","Leo2","Leo1"], "range": ["#6495ED","#000080","#FF00FF","#9932CC","#FF4500","#2E8B57","#00FFFF","#FFD700"]}}},
"layer": [
{"data": {"name": "Ci"}, "mark": {"type": "rule", "strokeWidth": 1.5, "opacity": 0.3, "clip": true},
 "encoding": {
 "x": {"field": "x", "type": "quantitative", "scale": {"type": "linear", "domain": [20,120], "nice": false, "zero": false}, "axis": {"orient": "bottom", "values": [20,40,60,80,100,120], "title": "rₚ (pericenter) [kpc]", "labelFont": "Liberation Serif", "titleFont": "Liberation Serif"}},
 "y": {"field": "ylo", "type": "quantitative", "scale": {"type": "linear", "domain": [0,32], "nice": false, "zero": false}, "axis": {"orient": "left", "values": [5,10,15,20,25,30], "title": "ρ₁₅₀ [10⁷ M⊙ kpc⁻³]", "labelFont": "Liberation Serif", "titleFont": "Liberation Serif"}},
 "y2": {"field": "yhi"}}},
{"data": {"name": "Ci"}, "mark": {"type": "tick", "orient": "horizontal", "size": 9, "thickness": 1.5, "opacity": 0.3, "clip": true},
 "encoding": {"x": {"field": "x", "type": "quantitative", "scale": {"type": "linear", "domain": [20,120], "nice": false, "zero": false}, "axis": null}, "y": {"field": "ylo", "type": "quantitative", "scale": {"type": "linear", "domain": [0,32], "nice": false, "zero": false}, "axis": null}}},
{"data": {"name": "Ci"}, "mark": {"type": "tick", "orient": "horizontal", "size": 9, "thickness": 1.5, "opacity": 0.3, "clip": true},
 "encoding": {"x": {"field": "x", "type": "quantitative", "scale": {"type": "linear", "domain": [20,120], "nice": false, "zero": false}, "axis": null}, "y": {"field": "yhi", "type": "quantitative", "scale": {"type": "linear", "domain": [0,32], "nice": false, "zero": false}, "axis": null}}},
{"data": {"name": "Ci"}, "mark": {"type": "point", "shape": "square", "filled": true, "opacity": 0.3, "clip": true},
 "encoding": {"x": {"field": "x", "type": "quantitative", "scale": {"type": "linear", "domain": [20,120], "nice": false, "zero": false}, "axis": null}, "y": {"field": "y", "type": "quantitative", "scale": {"type": "linear", "domain": [0,32], "nice": false, "zero": false}, "axis": null}, "size": {"field": "s", "type": "quantitative", "scale": null}}},
{"data": {"name": "Cd"}, "mark": {"type": "rule", "strokeWidth": 1.5, "clip": true},
 "encoding": {"x": {"field": "x", "type": "quantitative", "scale": {"type": "linear", "domain": [20,120], "nice": false, "zero": false}, "axis": null}, "y": {"field": "ylo", "type": "quantitative", "scale": {"type": "linear", "domain": [0,32], "nice": false, "zero": false}, "axis": null}, "y2": {"field": "yhi"}}},
{"data": {"name": "Cd"}, "mark": {"type": "tick", "orient": "horizontal", "size": 9, "thickness": 1.5, "opacity": 1, "clip": true},
 "encoding": {"x": {"field": "x", "type": "quantitative", "scale": {"type": "linear", "domain": [20,120], "nice": false, "zero": false}, "axis": null}, "y": {"field": "ylo", "type": "quantitative", "scale": {"type": "linear", "domain": [0,32], "nice": false, "zero": false}, "axis": null}}},
{"data": {"name": "Cd"}, "mark": {"type": "tick", "orient": "horizontal", "size": 9, "thickness": 1.5, "opacity": 1, "clip": true},
 "encoding": {"x": {"field": "x", "type": "quantitative", "scale": {"type": "linear", "domain": [20,120], "nice": false, "zero": false}, "axis": null}, "y": {"field": "yhi", "type": "quantitative", "scale": {"type": "linear", "domain": [0,32], "nice": false, "zero": false}, "axis": null}}},
{"data": {"name": "Cd"}, "mark": {"type": "point", "shape": "diamond", "filled": true, "opacity": 1, "clip": true},
 "encoding": {"x": {"field": "x", "type": "quantitative", "scale": {"type": "linear", "domain": [20,120], "nice": false, "zero": false}, "axis": null}, "y": {"field": "y", "type": "quantitative", "scale": {"type": "linear", "domain": [0,32], "nice": false, "zero": false}, "axis": null}, "size": {"field": "s", "type": "quantitative", "scale": null}}},
{"data": {"name": "tC2"}, "mark": {"type": "text", "align": "left", "baseline": "middle", "fontSize": 21, "font": "Liberation Serif"},
 "encoding": {"x": {"field": "x", "type": "quantitative", "scale": {"type": "linear", "domain": [20,120], "nice": false, "zero": false}, "axis": {"orient": "top", "values": [20,40,60,80,100,120], "labels": false, "title": null}}, "y": {"field": "y", "type": "quantitative", "scale": {"type": "linear", "domain": [0,32], "nice": false, "zero": false}, "axis": {"orient": "right", "values": [5,10,15,20,25,30], "labels": false, "title": null}}, "text": {"field": "t"}, "color": {"value": "#222222"}}}
]
}
],
"resolve": {"scale": {"x": "independent", "y": "independent", "color": "independent", "shape": "independent"}, "axis": {"x": "independent", "y": "independent"}, "legend": {"color": "independent", "shape": "independent"}},
"config": {
"font": "Liberation Serif",
"view": {"stroke": "#222222", "strokeWidth": 1.3},
"style": {"guide-label": {"font": "Liberation Serif"}, "guide-title": {"font": "Liberation Serif"}},
"axis": {"domain": false, "grid": false, "tickSize": -5, "tickWidth": 1.1, "tickColor": "#222222", "labelFont": "Liberation Serif", "labelFontSize": 19, "labelColor": "#222222", "titleFont": "Liberation Serif", "titleFontSize": 28, "titleFontWeight": "normal", "titleColor": "#222222", "labelFlush": false, "labelOverlap": false},
"axisX": {"labelPadding": 12, "titlePadding": 4},
"axisY": {"labelPadding": 17, "titlePadding": 9, "titleFontSize": 25},
"legend": {"labelFont": "Liberation Mono", "labelFontSize": 8.5, "labelColor": "#333333", "symbolSize": 45, "rowPadding": -2, "padding": 5, "fillColor": "#ffffff", "strokeColor": "#cccccc", "cornerRadius": 3, "labelOffset": 8, "labelLimit": 200}
}
}
